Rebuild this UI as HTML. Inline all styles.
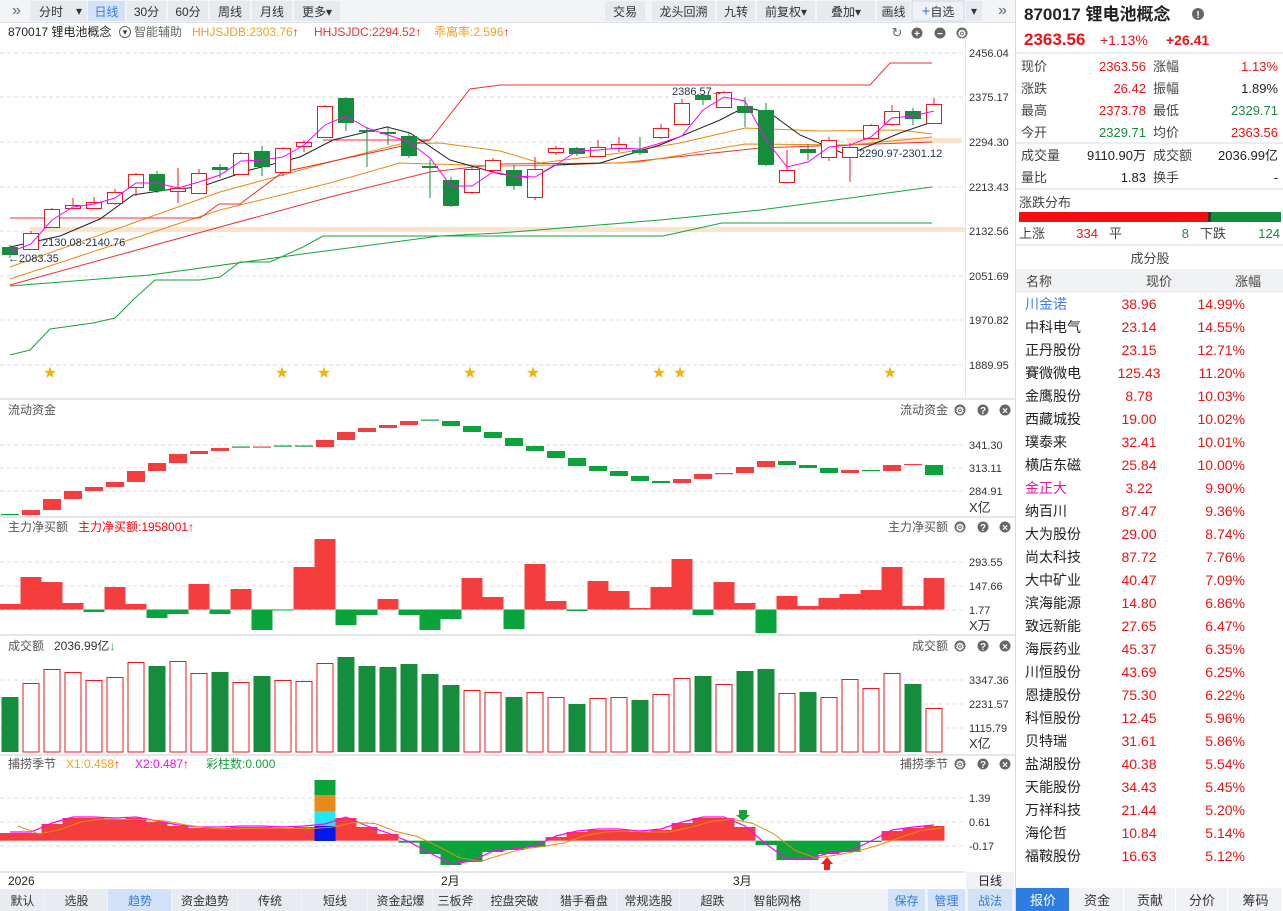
<!DOCTYPE html>
<html><head><meta charset="utf-8">
<style>
html,body{margin:0;padding:0;background:#fff;width:1283px;height:911px;overflow:hidden}
svg{display:block;font-family:"Liberation Sans","Noto Sans CJK SC",sans-serif}
</style></head><body>
<svg id="s" width="1283" height="911" xmlns="http://www.w3.org/2000/svg"></svg>
<script>
const S=document.getElementById('s');let h='';
const R='#f0262b',G='#168c3d',G2='#0aa53a',RF='#f43d3d';
function t(x,y,s,o){o=o||{};h+=`<text x="${x}" y="${y}" font-size="${o.fs||12}" fill="${o.c||'#333'}" text-anchor="${o.a||'start'}" ${o.w?'font-weight="bold"':''}>${s}</text>`;}
function r(x,y,w,hh,f,st){h+=`<rect x="${x}" y="${y}" width="${w}" height="${hh}" fill="${f}" ${st?`stroke="${st}"`:''}/>`;}
function l(x1,y1,x2,y2,c,d,sw){h+=`<line x1="${x1}" y1="${y1}" x2="${x2}" y2="${y2}" stroke="${c}" stroke-width="${sw||1}" ${d?'stroke-dasharray="4,3"':''}/>`;}
function pl(p,c,sw){h+=`<polyline points="${p.map(q=>q.join(',')).join(' ')}" fill="none" stroke="${c}" stroke-width="${sw||1}"/>`;}
const X=i=>10+21*i;
// toolbar
r(0,0,1015,22,'#f3f4f6');
t(12,15,'»',{fs:16,c:'#666'});
const tb=[[30,72,'分时'],[88,125,'日线'],[127,166,'30分'],[168,208,'60分'],[210,250,'周线'],[252,292,'月线'],[294,340,'更多▾']];
tb.forEach(b=>{r(b[0],1,b[1]-b[0],20,b[2]=='日线'?'#d3e2f6':'#e6e9ee');t((b[0]+b[1])/2,16,b[2],{a:'middle',c:b[2]=='日线'?'#2f7de1':'#333'});});
r(72,1,15,20,'#e6e9ee');t(79,15,'▾',{a:'middle',c:'#333'});
const tb2=[[605,645,'交易'],[652,715,'龙头回溯'],[717,755,'九转'],[757,815,'前复权▾'],[817,875,'叠加▾'],[877,910,'画线']];
tb2.forEach(b=>{r(b[0],1,b[1]-b[0],20,'#e6e9ee');t((b[0]+b[1])/2,16,b[2],{a:'middle'});});
r(912,1,52,20,'#eef2f8','#d0d6e0');t(938,16,'<tspan fill="#2f7de1" font-size="15">+</tspan>自选',{a:'middle'});
r(966,1,16,20,'#e6e9ee');t(974,15,'▾',{a:'middle'});
t(998,15,'»',{fs:16,c:'#666'});
l(0,22.5,1015,22.5,'#dde1e8');
// title
t(8,36,'870017 锂电池概念',{c:'#222'});
h+=`<circle cx="125" cy="32" r="5.5" fill="none" stroke="#666"/>`;t(125,35,'▾',{a:'middle',fs:9,c:'#333'});
t(134,36,'智能辅助',{c:'#666'});
t(192,36,'HHJSJDB:2303.76<tspan fill="#f00">↑</tspan>',{c:'#f0a020'});
t(314,36,'HHJSJDC:2294.52<tspan fill="#f00">↑</tspan>',{c:'#f03030'});
t(434,36,'乖离率:2.596<tspan fill="#f00">↑</tspan>',{c:'#f0a020'});
// icons
t(897,37,'↻',{a:'middle',c:'#666',fs:13});
[917,940,962].forEach((x,i)=>{h+=`<circle cx="${x}" cy="33" r="5.5" fill="#666"/>`;t(x,37,['+','−','⚙'][i],{a:'middle',c:'#fff',fs:10,w:1});});
// main axis
l(965.5,40,965.5,398,'#e3e6ea');
const ly=[[53,'2456.04'],[97,'2375.17'],[142,'2294.30'],[187,'2213.43'],[231,'2132.56'],[276,'2051.69'],[320,'1970.82'],[365,'1889.95']];
ly.forEach(a=>{l(0,a[0],965,a[0],'#dcdcdc',1);t(969,a[0]+4,a[1],{fs:11});});
// peach bands
r(30,227,935,5,'#fbe3cc');r(847,138,115,5,'#fbe3cc');
// lines
pl([[10,355],[30,350],[50,329],[93,323],[115,318],[135,298],[155,280],[200,280],[220,277],[240,262],[270,262],[303,247],[323,236],[663,236],[722,223],[932,223]],'#13a53a');
pl([[10,286],[150,275],[310,253],[440,236],[500,233],[660,220],[760,210],[932,187]],'#13a53a');
pl([[10,285],[220,227],[330,197],[430,172],[500,164],[620,163],[760,148],[932,142]],'#f03030');
pl([[10,279],[220,210],[330,183],[400,163],[500,166],[560,165],[640,162],[745,144],[850,145],[932,137]],'#e88a10');
pl([[10,267],[220,192],[330,162],[400,144],[440,143],[500,151],[540,163],[620,153],[680,143],[745,128],[820,131],[900,130],[932,134]],'#e88a10');
pl([[10,218],[200,218],[219,204],[240,204],[283,172],[430,140],[470,89],[500,85],[870,85],[890,63],[932,63]],'#f03030');
pl([[323,140],[430,140]],'#f03030');
pl([[10,247],[60,236],[100,219],[133,195],[166,190],[200,187],[250,170],[300,157],[333,140],[387,127],[410,133],[450,160],[500,174],[533,178],[555,165],[600,163],[660,145],[720,120],[745,107],[770,113],[800,135],[847,155],[900,133],[932,122]],'#222');
// candles
const C=[[247,255,245,258,0],[233,249,231,250,1],[209,227,208,228,1],[205,208,198,209,1],[202,208,197,209,1],[192,203,189,205,1],[174,187,173,196,1],[174,191,171,193,0],[188,191,168,203,1],[173,193,169,194,1],[167,170,164,178,0],[153,174,152,175,1],[151,167,146,176,0],[148,172,147,176,1],[142,146,140,152,1],[106,137,105,138,1],[98,123,97,131,0],[130,132,127,167,0],[132,134,126,145,0],[136,156,133,158,0],[166,168,160,198,0],[180,206,177,207,0],[169,192,168,194,1],[160,170,158,172,1],[170,186,165,190,0],[169,197,157,200,1],[148,152,146,155,1],[148,154,147,156,0],[147,156,140,157,1],[144,148,137,152,1],[150,153,137,155,0],[128,137,124,139,1],[103,124,99,125,1],[95,100,94,105,0],[92,107,91,108,1],[106,113,97,127,0],[110,165,103,166,0],[170,182,150,183,1],[149,153,144,160,0],[140,157,137,161,1],[147,157,143,182,1],[125,138,124,139,1],[111,124,105,126,1],[111,119,108,125,0],[104,123,98,124,1]];
C.forEach((c,i)=>{const x=X(i),col=c[4]?'#f01818':G;l(x,c[2],x,c[3],col);
 if(c[4])r(x-7.5,c[0]+.5,15,Math.max(c[1]-c[0],1),'#fff',col);else r(x-8,c[0],16,Math.max(c[1]-c[0],2),col);});
pl([[10,252],[31,244],[52,220],[73,207],[94,204],[115,198],[136,183],[157,183],[178,188],[199,182],[220,175],[241,161],[262,160],[283,157],[304,145],[325,125],[346,116],[367,128],[388,135],[409,142],[430,158],[451,186],[472,186],[493,172],[514,176],[535,177],[556,165],[577,151],[598,150],[619,148],[640,149],[661,143],[682,136],[703,110],[724,97],[745,101],[766,140],[787,167],[808,162],[829,147],[850,145],[871,137],[892,118],[913,116],[934,111]],'#f0f');
t(42,246,'2130.08-2140.76',{fs:11,c:'#1d3050'});t(8,262,'←2083.35',{fs:11,c:'#1d3050'});
t(672,95,'2386.57→',{fs:11,c:'#1d3050'});t(859,157,'2290.97-2301.12',{fs:11,c:'#1d3050'});
[50,282,324,470,533,659,680,890].forEach(x=>t(x,377,'★',{a:'middle',c:'#f5b400',fs:13}));
// panel separators
[399,517,635,755].forEach(y=>{l(0,y,1015,y,'#e3e6ea',0,2);});
function hdr(y,title){t(8,y,title,{c:'#555'});t(948,y,title.split(' ')[0],{a:'end',c:'#555'});
 [960,983,1005].forEach((x,i)=>{h+=`<circle cx="${x}" cy="${y-4}" r="5.5" fill="#666"/>`;t(x,y,['⚙','?','×'][i],{a:'middle',c:'#fff',fs:10,w:1});});}
hdr(414,'流动资金');hdr(531,'主力净买额');hdr(650,'成交额');hdr(768,'捕捞季节');
t(78,531,'主力净买额:1958001<tspan>↑</tspan>',{c:'#f00'});
t(54,650,'2036.99亿<tspan fill="#16a03c">↓</tspan>',{c:'#333'});
t(66,768,'X1:0.458<tspan fill="#f00">↑</tspan>',{c:'#f0a020'});
t(135,768,'X2:0.487<tspan fill="#f00">↑</tspan>',{c:'#f0f'});
t(206,768,'彩柱数:0.000',{c:'#16a03c'});
// liquidity
[[445,'341.30'],[468,'313.11'],[491,'284.91']].forEach(a=>{l(0,a[0],965,a[0],'#dcdcdc',1);t(969,a[0]+4,a[1],{fs:11});});t(969,512,'X亿',{fs:13});
const LQ=[[514,515,0],[510,515,1],[499,510,1],[491,499,1],[487,491,1],[482,487,1],[471,482,1],[463,471,1],[454,463,1],[451,454,1],[448,451,1],[446.5,447.5,0],[446.5,447.5,1],[445.5,446.5,0],[445.5,446.5,0],[440,447,1],[432,440,1],[428,432,1],[425,428,1],[421,425,1],[419.5,420.5,0],[421,426,0],[426,432,0],[432,438,0],[438,446,0],[446,451,0],[451,458,0],[458,466,0],[466,471,0],[471,476,0],[476,481,0],[481,483,0],[479,483,1],[474,479,1],[473,474,1],[467,473,1],[461,467,1],[461,465,0],[465,468,0],[468,473,0],[470,473,1],[470,471,0],[465,471,1],[464,465,1],[465,475,0]];
LQ.forEach((b,i)=>r(X(i)-9,b[0],18,Math.max(b[1]-b[0],1.2),b[2]?RF:G2));
// net buy
[[562,'293.55'],[586,'147.66'],[610,'1.77']].forEach(a=>{l(0,a[0],965,a[0],'#dcdcdc',1);t(969,a[0]+4,a[1],{fs:11});});t(969,630,'X万',{fs:13});
const NB=[604,577,582,603,612,587,604,618,614,584,614,589,630,610.5,567,539,625,615,599,615,630,619,578,597,629,564,601,611,581,591,608,587,559,615,582,603,633,596,606,598,594,590,567,606,578];
NB.forEach((v,i)=>{const z=609.5;if(v<z)r(X(i)-10.5,v,21,z-v,RF);else r(X(i)-10.5,z,21,v-z,G2);});
// volume
[[680,'3347.36'],[704,'2231.57'],[728,'1115.79']].forEach(a=>{l(0,a[0],965,a[0],'#dcdcdc',1);t(969,a[0]+4,a[1],{fs:11});});t(969,748,'X亿',{fs:13});
const VO=[[697,0],[683,1],[669,1],[672,1],[680,1],[677,1],[662,1],[666,0],[661,1],[673,1],[672,0],[682,1],[676,0],[680,1],[681,1],[663,1],[657,0],[666,0],[667,0],[664,0],[674,0],[685,0],[690,1],[692,1],[697,0],[692,1],[697,1],[704,0],[698,1],[697,1],[700,0],[694,1],[678,1],[676,0],[684,1],[671,0],[669,0],[693,1],[692,0],[697,1],[679,1],[688,1],[673,1],[684,0],[708,1]];
VO.forEach((v,i)=>{if(v[1])r(X(i)-8,v[0]+.5,16,751.5-v[0],'#fff','#e81818');else r(X(i)-8.5,v[0],17,752-v[0],G);});
// season
[[798,'1.39'],[822,'0.61'],[846,'-0.17']].forEach(a=>{l(0,a[0],965,a[0],'#dcdcdc',1);t(969,a[0]+4,a[1],{fs:11});});
const SE=[833,833,824,818,818,819,818,822,826,828,828,827,827,828,827,0,818,827,834,842.7,854,865,862,852,850,847,837,832,830,830,832,830,823,818,818,827,845,860,860,854,852,842,831,828,826];
const z=840.7;
SE.forEach((v,i)=>{if(i==15){r(X(i)-10.5,826,21,15,'#0018f0');r(X(i)-10.5,811,21,15,'#20e8f0');r(X(i)-10.5,795,21,16,'#e88a18');r(X(i)-10.5,780,21,15,'#0aa53a');return;}
 if(v<z)r(X(i)-10.5,v,21,z-v,RF);else r(X(i)-10.5,z,21,Math.max(v-z,1.3),G2);});
const mg=SE.map((v,i)=>[X(i),i==15?824:(v<z?v:v)-1]);
pl(mg,'#f0f',1.2);
pl(mg.map((p,i)=>[p[0]+8,i==0?p[1]-6:(mg[i-1][1]+p[1])/2+ (p[1]<z?2:-1)]),'#e88a10',1);
h+=`<polygon points="739,810 747,810 747,815 750,815 743,821 736,815 739,815" fill="#16a03c"/>`;
h+=`<polygon points="824,870 830,870 830,864 833,864 827,857 821,864 824,864" fill="#f02020"/>`;
// date axis
l(0,872,965,872,'#e3e6ea',0,2);
t(8,885,'2026',{c:'#222'});t(441,885,'2月',{c:'#222'});t(733,885,'3月',{c:'#222'});
r(966,872,48,17,'#eef1f5');t(990,885,'日线',{a:'middle',c:'#222'});
// bottom tabs
r(0,889,1015,22,'#f0f2f5');
const bt=[[0,45,'默认'],[45,108,'选股'],[108,172,'趋势'],[172,238,'资金趋势'],[238,302,'传统'],[302,368,'短线'],[368,433,'资金起爆'],[433,478,'三板斧'],[478,551,'控盘突破'],[551,617,'猎手看盘'],[617,680,'常规选股'],[680,745,'超跌'],[745,810,'智能网格']];
bt.forEach(b=>{r(b[0],889,b[1]-b[0]-1,22,b[2]=='趋势'?'#d3e2f6':'#e8ebef');t((b[0]+b[1])/2,905,b[2],{a:'middle',c:b[2]=='趋势'?'#2f7de1':'#333'});});
[[888,925,'保存'],[928,965,'管理'],[968,1012,'战法']].forEach(b=>{r(b[0],889,b[1]-b[0],22,'#d3e2f6');t((b[0]+b[1])/2,905,b[2],{a:'middle',c:'#2f7de1'});});
// right panel
l(1015.5,0,1015.5,911,'#d6dbe3');
t(1024,20,'870017 锂电池概念',{fs:17,w:1,c:'#222'});
h+=`<circle cx="1198" cy="14" r="6" fill="#666"/>`;t(1198,18,'!',{a:'middle',c:'#fff',fs:10,w:1});
t(1024,45,'2363.56',{fs:17,w:1,c:'#f01010'});t(1100,45,'+1.13%',{fs:14,c:'#f01010'});t(1166,45,'+26.41',{fs:14,w:1,c:'#f01010'});
[53,143,189,245].forEach(y=>l(1016,y,1283,y,'#d6dbe3'));
const rows=[[71,'现价','2363.56','#f01010','涨幅','1.13%','#f01010'],[93,'涨跌','26.42','#f01010','振幅','1.89%','#222'],[115,'最高','2373.78','#f01010','最低','2329.71','#168c3d'],[137,'今开','2329.71','#168c3d','均价','2363.56','#f01010'],[160,'成交量','9110.90万','#222','成交额','2036.99亿','#222'],[182,'量比','1.83','#222','换手','-','#222']];
rows.forEach(a=>{t(1021,a[0],a[1],{fs:13,c:'#444'});t(1146,a[0],a[2],{fs:13,c:a[3],a:'end'});t(1153,a[0],a[4],{fs:13,c:'#444'});t(1278,a[0],a[5],{fs:13,c:a[6],a:'end'});});
t(1019,207,'涨跌分布',{fs:13,c:'#444'});
r(1019,212,189,10,'#ee1111');r(1208,212,3,10,'#333');r(1211,212,70,10,'#168c3d');
t(1019,238,'上涨',{fs:13,c:'#444'});t(1098,238,'334',{fs:13,c:'#f01010',a:'end'});t(1109,238,'平',{fs:13,c:'#444'});t(1189,238,'8',{fs:13,c:'#168c3d',a:'end'});t(1200,238,'下跌',{fs:13,c:'#444'});t(1280,238,'124',{fs:13,c:'#168c3d',a:'end'});
t(1150,263,'成分股',{fs:13,c:'#444',a:'middle'});
r(1016,269,267,24,'#f0f1f3');t(1026,286,'名称',{fs:13,c:'#444'});t(1159,286,'现价',{fs:13,c:'#444',a:'middle'});t(1248,286,'涨幅',{fs:13,c:'#444',a:'middle'});
const st=[['川金诺','38.96','14.99%'],['中科电气','23.14','14.55%'],['正丹股份','23.15','12.71%'],['賽微微电','125.43','11.20%'],['金鹰股份','8.78','10.03%'],['西藏城投','19.00','10.02%'],['璞泰来','32.41','10.01%'],['横店东磁','25.84','10.00%'],['金正大','3.22','9.90%'],['纳百川','87.47','9.36%'],['大为股份','29.00','8.74%'],['尚太科技','87.72','7.76%'],['大中矿业','40.47','7.09%'],['滨海能源','14.80','6.86%'],['致远新能','27.65','6.47%'],['海辰药业','45.37','6.35%'],['川恒股份','43.69','6.25%'],['恩捷股份','75.30','6.22%'],['科恒股份','12.45','5.96%'],['贝特瑞','31.61','5.86%'],['盐湖股份','40.38','5.54%'],['天能股份','34.43','5.45%'],['万祥科技','21.44','5.20%'],['海伦哲','10.84','5.14%'],['福鞍股份','16.63','5.12%']];
st.forEach((a,i)=>{const y=309+i*23;t(1025,y,a[0],{fs:14,c:i==0?'#3d7ff0':(i==8?'#f010a0':'#222')});t(1139,y,a[1],{fs:14,c:'#f01010',a:'middle'});t(1245,y,a[2],{fs:14,c:'#f01010',a:'end'});});
const rt=[[1016,1070,'报价'],[1070,1124,'资金'],[1124,1176,'贡献'],[1176,1228,'分价'],[1228,1283,'筹码']];
rt.forEach(b=>{r(b[0],888,b[1]-b[0]-1,23,b[2]=='报价'?'#2f7de1':'#f0f2f5');t((b[0]+b[1])/2,905,b[2],{fs:13,a:'middle',c:b[2]=='报价'?'#fff':'#333'});});
S.innerHTML=h;
</script>
</body></html>
